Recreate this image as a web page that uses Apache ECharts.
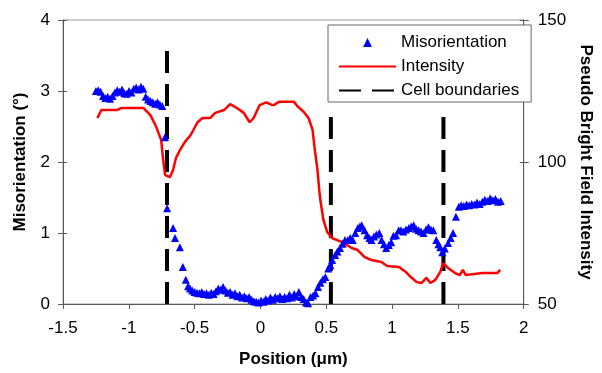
<!DOCTYPE html>
<html>
<head>
<meta charset="utf-8">
<script src="https://cdn.jsdelivr.net/npm/echarts@6/dist/echarts.min.js"></script>
<style>
  html, body { margin: 0; padding: 0; background: #ffffff; }
  #chart { width: 602px; height: 373px; }
</style>
</head>
<body>
<div id="chart"></div>
<script>
// Misorientation profile (degrees) along the scan line
const misoPos = [
  -1.250, -1.232, -1.214, -1.196, -1.178, -1.160, -1.142, -1.124, -1.106, -1.088,
  -1.070, -1.052, -1.034, -1.016, -0.998, -0.980, -0.962, -0.944, -0.926, -0.908,
  -0.890, -0.872, -0.854, -0.836, -0.818, -0.800, -0.782, -0.764, -0.746, -0.725,
  -0.709, -0.664, -0.649, -0.612, -0.590, -0.567, -0.550, -0.535, -0.518, -0.500,
  -0.482, -0.464, -0.446, -0.428, -0.410, -0.392, -0.374, -0.356, -0.338, -0.320,
  -0.302, -0.284, -0.266, -0.248, -0.230, -0.212, -0.194, -0.176, -0.158, -0.140,
  -0.122, -0.104, -0.086, -0.068, -0.050, -0.032, -0.014, 0.004, 0.022, 0.040,
  0.058, 0.076, 0.094, 0.112, 0.130, 0.148, 0.166, 0.184, 0.202, 0.220,
  0.238, 0.256, 0.274, 0.292, 0.310, 0.328, 0.346, 0.362, 0.380, 0.400,
  0.418, 0.437, 0.455, 0.474, 0.493, 0.515, 0.530, 0.545, 0.567, 0.585,
  0.604, 0.624, 0.642, 0.664, 0.682, 0.701, 0.720, 0.739, 0.755, 0.769,
  0.791, 0.810, 0.828, 0.843, 0.862, 0.880, 0.903, 0.920, 0.938, 0.955,
  0.975, 0.993, 1.010, 1.030, 1.050, 1.067, 1.085, 1.105, 1.127, 1.145,
  1.164, 1.182, 1.201, 1.220, 1.239, 1.258, 1.276, 1.295, 1.313, 1.336,
  1.352, 1.366, 1.381, 1.400, 1.425, 1.445, 1.463, 1.485, 1.507, 1.525,
  1.545, 1.565, 1.585, 1.605, 1.625, 1.645, 1.665, 1.685, 1.705, 1.725,
  1.745, 1.765, 1.785, 1.805, 1.825
];
const misoDeg = [
  3.00, 3.01, 2.99, 2.93, 2.90, 2.92, 2.89, 2.93, 2.98, 3.01,
  2.99, 3.02, 2.97, 2.96, 3.00, 2.98, 3.03, 3.05, 3.02, 3.06,
  3.03, 2.92, 2.88, 2.86, 2.84, 2.82, 2.84, 2.81, 2.79, 2.35,
  1.35, 1.07, 0.93, 0.80, 0.52, 0.34, 0.25, 0.22, 0.19, 0.17,
  0.16, 0.15, 0.17, 0.14, 0.15, 0.13, 0.16, 0.14, 0.18, 0.22,
  0.20, 0.24, 0.19, 0.16, 0.17, 0.13, 0.15, 0.11, 0.13, 0.09,
  0.11, 0.08, 0.10, 0.06, 0.04, 0.03, 0.02, 0.05, 0.03, 0.07,
  0.05, 0.09, 0.06, 0.10, 0.08, 0.11, 0.07, 0.10, 0.08, 0.13,
  0.09, 0.14, 0.11, 0.17, 0.10, 0.07, 0.02, 0.01, 0.10, 0.12,
  0.15, 0.24, 0.30, 0.35, 0.38, 0.50, 0.55, 0.62, 0.69, 0.74,
  0.79, 0.85, 0.90, 0.90, 0.93, 0.90, 1.00, 1.07, 1.09, 1.11,
  1.04, 0.97, 0.93, 0.90, 0.95, 0.98, 1.00, 0.90, 0.84, 0.79,
  0.83, 0.87, 0.96, 0.97, 1.04, 1.04, 1.02, 1.05, 1.07, 1.09,
  1.11, 1.06, 1.04, 1.02, 1.00, 1.05, 1.08, 1.05, 1.04, 0.90,
  0.84, 0.80, 0.73, 0.78, 0.86, 0.93, 1.00, 1.23, 1.37, 1.39,
  1.38, 1.40, 1.39, 1.41, 1.40, 1.43, 1.41, 1.44, 1.47, 1.45,
  1.49, 1.46, 1.48, 1.44, 1.45
];

// Pseudo bright field intensity along the same line
const intPos = [
  -1.239, -1.209, -1.090, -1.060, -0.888, -0.836, -0.791, -0.754, -0.739, -0.724,
  -0.687, -0.664, -0.642, -0.612, -0.575, -0.530, -0.478, -0.440, -0.381, -0.343,
  -0.276, -0.231, -0.179, -0.127, -0.082, -0.052, -0.007, 0.045, 0.082, 0.104,
  0.142, 0.254, 0.284, 0.328, 0.366, 0.396, 0.410, 0.433, 0.448, 0.455,
  0.478, 0.507, 0.545, 0.619, 0.694, 0.739, 0.791, 0.843, 0.918, 0.963,
  1.052, 1.104, 1.142, 1.187, 1.224, 1.261, 1.291, 1.328, 1.366, 1.388,
  1.425, 1.478, 1.515, 1.537, 1.560, 1.687, 1.701, 1.799, 1.821
];
const intVal = [
  115.5, 118.3, 118.3, 119.0, 119.0, 116.5, 112.3, 107.7, 100.7, 95.4,
  94.7, 97.2, 101.4, 104.2, 107.0, 109.5, 114.0, 115.5, 115.5, 117.3,
  118.3, 120.4, 119.0, 117.3, 114.0, 115.5, 120.0, 121.0, 120.2, 120.1,
  121.2, 121.2, 119.5, 117.7, 115.4, 111.3, 105.4, 97.2, 89.5, 86.6,
  79.6, 75.4, 73.2, 71.8, 69.7, 69.0, 66.5, 65.5, 64.8, 63.4,
  63.0, 61.3, 59.5, 57.7, 57.4, 59.2, 57.4, 58.5, 61.3, 64.4,
  62.7, 60.9, 60.2, 62.0, 60.2, 60.9, 60.2, 60.9, 62.0
];

// Cell boundary positions and the height each dashed marker reaches (degrees)
const boundaryPos = [-0.71, 0.535, 1.39];
const boundaryTop = [3.62, 2.66, 2.66];

const FONT = "'Liberation Sans', Arial, sans-serif";
const AXIS_COLOR = '#5a5a5a';

const misoData = misoPos.map((x, i) => [x, misoDeg[i]]);
const intData = intPos.map((x, i) => [x, intVal[i]]);

const boundarySeries = boundaryPos.map((x, i) => ({
  name: 'Cell boundaries',
  type: 'line',
  xAxisIndex: 0,
  yAxisIndex: 0,
  symbol: 'none',
  silent: true,
  z: 1,
  lineStyle: { color: '#000000', width: 4, type: [22, 11], cap: 'butt' },
  itemStyle: { color: '#000000' },
  data: [[x, 0], [x, boundaryTop[i]]]
}));

// Short inner half of the cross-style ticks on both value axes
function innerTicks(position, min, max, interval) {
  return {
    type: 'value', position, min, max, interval,
    alignTicks: false,
    axisLine: { show: false, onZero: false },
    axisLabel: { show: false },
    splitLine: { show: false },
    axisTick: { show: true, inside: true, length: 4, lineStyle: { color: AXIS_COLOR } }
  };
}

const chart = echarts.init(document.getElementById('chart'), null, { renderer: 'canvas' });

chart.setOption({
  animation: false,
  backgroundColor: '#ffffff',
  textStyle: { fontFamily: FONT },
  grid: {
    left: 63, right: 70, top: 20, bottom: 69,
    show: true, borderColor: '#9a9a9a', borderWidth: 1, backgroundColor: 'transparent'
  },
  legend: {
    orient: 'vertical',
    left: 328, top: 25,
    padding: [9, 12, 3, 10],
    backgroundColor: '#ffffff',
    borderColor: '#666666',
    borderWidth: 1,
    borderRadius: 0,
    itemWidth: 57,
    itemHeight: 11,
    itemGap: 7,
    textStyle: { fontFamily: FONT, fontSize: 17, color: '#000000' },
    data: [
      { name: 'Misorientation', lineStyle: { opacity: 0 } },
      { name: 'Intensity', itemStyle: { opacity: 0 } },
      { name: 'Cell boundaries', itemStyle: { opacity: 0 } }
    ]
  },
  xAxis: {
    type: 'value',
    min: -1.5, max: 2, interval: 0.5,
    name: 'Position (μm)',
    nameLocation: 'middle',
    nameGap: 47,
    nameTextStyle: { fontFamily: FONT, fontSize: 17, fontWeight: 'bold', color: '#000000' },
    axisLine: { show: true, onZero: false, lineStyle: { color: AXIS_COLOR, width: 1 } },
    axisTick: { show: true, length: 5, lineStyle: { color: AXIS_COLOR } },
    axisLabel: { fontFamily: FONT, fontSize: 17, color: '#000000', margin: 16 },
    splitLine: { show: false }
  },
  yAxis: [
    {
      type: 'value',
      position: 'left',
      min: 0, max: 4, interval: 1,
      name: 'Misorientation (°)',
      nameLocation: 'middle',
      nameGap: 34,
      nameTextStyle: { fontFamily: FONT, fontSize: 17, fontWeight: 'bold', color: '#000000' },
      axisLine: { show: true, onZero: false, lineStyle: { color: AXIS_COLOR, width: 1 } },
      axisTick: { show: true, length: 5, lineStyle: { color: AXIS_COLOR } },
      axisLabel: { fontFamily: FONT, fontSize: 17, color: '#000000', margin: 13 },
      splitLine: { show: false }
    },
    {
      type: 'value',
      position: 'right',
      min: 50, max: 150, interval: 50,
      alignTicks: false,
      name: 'Pseudo Bright Field Intensity',
      nameLocation: 'middle',
      nameGap: 50,
      nameRotate: -90,
      nameTextStyle: { fontFamily: FONT, fontSize: 17, fontWeight: 'bold', color: '#000000' },
      axisLine: { show: true, onZero: false, lineStyle: { color: AXIS_COLOR, width: 1 } },
      axisTick: { show: true, length: 5, lineStyle: { color: AXIS_COLOR } },
      axisLabel: { fontFamily: FONT, fontSize: 17, color: '#000000', margin: 14 },
      splitLine: { show: false }
    },
    innerTicks('left', 0, 4, 1),
    innerTicks('right', 50, 150, 50)
  ],
  series: [
    ...boundarySeries,
    {
      name: 'Intensity',
      type: 'line',
      yAxisIndex: 1,
      symbol: 'none',
      z: 2,
      lineStyle: { color: '#ff0000', width: 2.5 },
      itemStyle: { color: '#ff0000' },
      data: intData
    },
    {
      name: 'Misorientation',
      type: 'line',
      yAxisIndex: 0,
      symbol: 'triangle',
      symbolSize: 8,
      showSymbol: true,
      showAllSymbol: true,
      z: 3,
      lineStyle: { width: 0, opacity: 0 },
      itemStyle: { color: '#0000ff', borderWidth: 0 },
      data: misoData
    }
  ]
});
</script>
</body>
</html>
